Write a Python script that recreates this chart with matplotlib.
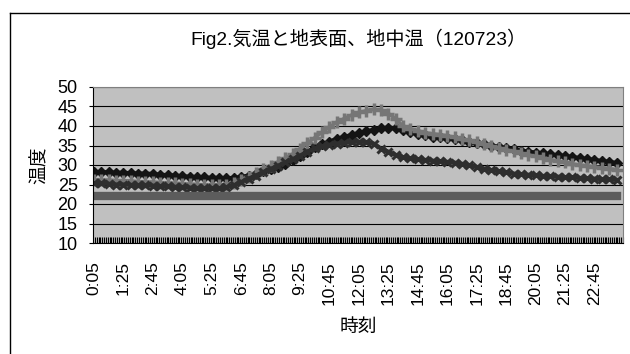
import matplotlib
matplotlib.use('Agg')
import matplotlib.pyplot as plt
from matplotlib.lines import Line2D
from matplotlib.ticker import FixedLocator

plt.rcParams['font.family'] = ['Liberation Sans', 'Noto Sans CJK JP']

# 0:05 - 24:00 (5 min), values read every 20 min
n_categories = 288
sample_step = 4
label_step = 16

tick_labels = ['0:05', '1:25', '2:45', '4:05', '5:25', '6:45', '8:05', '9:25',
               '10:45', '12:05', '13:25', '14:45', '16:05', '17:25', '18:45',
               '20:05', '21:25', '22:45']

black_series = [
    28.2, 28.2, 28.1, 28.0, 28.0, 27.9, 27.8, 27.8, 27.7, 27.5, 27.4, 27.3,
    27.1, 27.0, 26.9, 26.8, 26.7, 26.7, 26.6, 26.7, 26.9, 27.3, 27.8, 28.4,
    29.0, 29.6, 30.3, 31.2, 32.2, 33.3, 34.5, 35.3, 36.0, 36.7, 37.2, 37.7,
    38.2, 38.6, 39.0, 39.4, 39.6, 39.4, 39.0, 38.5, 38.0, 37.6, 37.3, 37.1,
    36.8, 36.6, 36.3, 36.0, 35.7, 35.3, 35.0, 34.7, 34.3, 34.0, 33.7, 33.4,
    33.2, 33.0, 32.7, 32.5, 32.3, 32.0, 31.8, 31.5, 31.3, 31.0, 30.8, 30.5]
gray_series = [
    26.2, 26.2, 26.1, 26.0, 26.0, 25.9, 25.7, 25.7, 25.6, 25.5, 25.4, 25.3,
    25.2, 25.1, 25.0, 24.9, 24.9, 24.9, 25.0, 25.4, 26.2, 27.0, 27.9, 28.9,
    29.8, 30.8, 31.8, 32.8, 34.2, 35.6, 37.0, 38.4, 39.7, 41.0, 41.9, 42.8,
    43.5, 43.9, 44.3, 44.0, 43.2, 41.8, 40.0, 39.3, 38.8, 38.3, 38.0, 37.8,
    37.5, 37.1, 36.7, 36.3, 35.8, 35.3, 34.8, 34.4, 33.9, 33.5, 33.0, 32.6,
    32.2, 31.8, 31.4, 31.0, 30.7, 30.3, 30.0, 29.8, 29.5, 29.3, 29.1, 28.8]
dark_series = [
    25.3, 25.3, 25.2, 25.0, 25.0, 24.9, 24.8, 24.8, 24.7, 24.6, 24.5, 24.4,
    24.3, 24.2, 24.1, 24.0, 24.0, 24.0, 24.3, 24.8, 25.6, 26.5, 27.3, 28.2,
    29.0, 29.8, 30.7, 31.5, 32.4, 33.4, 34.3, 34.8, 35.2, 35.5, 35.7, 35.9,
    36.0, 35.9, 35.5, 34.2, 33.4, 32.6, 32.0, 31.7, 31.5, 31.3, 31.1, 31.0,
    30.8, 30.6, 30.3, 30.0, 29.5, 29.1, 28.7, 28.4, 28.1, 27.8, 27.6, 27.5,
    27.4, 27.2, 27.1, 27.0, 26.9, 26.8, 26.7, 26.6, 26.5, 26.4, 26.3, 26.2]
flat_series = [22.0] * len(black_series)

x = [i * sample_step for i in range(len(black_series))]

fig = plt.figure(figsize=(6.3, 3.54), dpi=100)
ax = fig.add_axes([93 / 630, 1 - 243 / 354, 530 / 630, 156 / 354])
ax.set_facecolor('#c0c0c0')

ax.plot(x, black_series, color='#141414', lw=3, marker='D', ms=5,
        mec='#141414', mfc='#141414')
ax.plot(x, gray_series, color='#767676', lw=2.5, marker='+', ms=8.5, mew=2.5)
ax.plot(x, dark_series, color='#2e2e2e', lw=3, marker='x', ms=5.5, mew=2.2)
ax.plot(x, flat_series, color='#5c5c5c', lw=6)

ax.set_xlim(-0.5, n_categories - 0.5)
ax.set_ylim(10, 50)
ax.set_yticks(range(10, 55, 5))
ax.yaxis.grid(True, color='black', lw=0.8)
ax.set_axisbelow(True)

ax.xaxis.set_major_locator(FixedLocator(range(0, n_categories, label_step)))
ax.set_xticklabels(tick_labels, rotation=90, fontsize=12.5)
ax.xaxis.set_minor_locator(FixedLocator([i + 0.5 for i in range(n_categories)]))
ax.tick_params(axis='x', which='major', length=0, pad=13)
ax.tick_params(axis='x', which='minor', direction='in', length=4.5, width=0.8)
ax.tick_params(axis='y', length=3, width=0.8, labelsize=13, pad=8)

for side in ['top', 'right']:
    ax.spines[side].set_color('#808080')
for side in ['left', 'bottom']:
    ax.spines[side].set_color('black')

ax.set_title('Fig2.気温と地表面、地中温（120723）', fontsize=13.8, pad=30)
ax.set_xlabel('時刻', fontsize=13.5, labelpad=10)
ax.set_ylabel('温度', fontsize=13.5, labelpad=6)

fig.add_artist(Line2D([10 / 630, 10 / 630], [0, 1 - 13 / 354], color='black', lw=1))
fig.add_artist(Line2D([10 / 630, 1], [1 - 13 / 354, 1 - 13 / 354], color='black', lw=1))

fig.savefig('out.png', dpi=100)
